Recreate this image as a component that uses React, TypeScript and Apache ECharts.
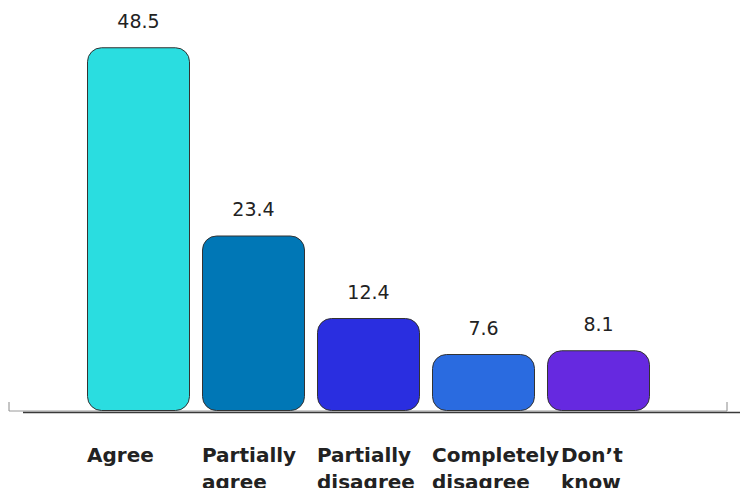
import React, { useEffect, useRef } from "react";
import * as echarts from "echarts";

const categories = ["Agree", "Partially agree", "Partially disagree", "Completely disagree", "Don’t know"];
const values = [48.5, 23.4, 12.4, 7.6, 8.1];
const barColors = ["#2ADDE0", "#0077B6", "#2A2EE0", "#2A6BE0", "#6629E0"];
const labelLines: Record<string, string> = {
  "Agree": "Agree",
  "Partially agree": "Partially\nagree",
  "Partially disagree": "Partially\ndisagree",
  "Completely disagree": "Completely\ndisagree",
  "Don’t know": "Don’t\nknow",
};
// horizontal nudge of each category label from its bar's left edge
const labelShift = [0, 0, 0, 0, 14];

const FONT = "'DejaVu Sans', sans-serif";

export default function App() {
  const ref = useRef<HTMLDivElement>(null);
  useEffect(() => {
    if (!ref.current) return;
    const chart = echarts.init(ref.current, null, { renderer: "svg" });
    chart.setOption({
      animation: false,
      grid: { left: 81, right: 84, top: 36, bottom: 77 },
      xAxis: {
        type: "category",
        data: categories,
        axisLine: { show: false },
        axisTick: { show: false },
        axisLabel: { show: false },
      },
      yAxis: { type: "value", min: 0, max: 50, show: false, splitLine: { show: false } },
      graphic: [
        { type: "line", shape: { x1: 9, y1: 411, x2: 727, y2: 411 }, style: { stroke: "#9a9a9a", lineWidth: 1 }, z: 0 },
        { type: "line", shape: { x1: 23, y1: 412.5, x2: 740, y2: 412.5 }, style: { stroke: "#3a3a3a", lineWidth: 1.5 }, z: 0 },
        { type: "line", shape: { x1: 9, y1: 402, x2: 9, y2: 411 }, style: { stroke: "#8a8a8a", lineWidth: 1 } },
        { type: "line", shape: { x1: 727, y1: 402, x2: 727, y2: 411 }, style: { stroke: "#8a8a8a", lineWidth: 1 } },
      ],
      series: [
        {
          type: "bar",
          barWidth: 103,
          data: values.map((v, i) => ({ value: v, itemStyle: { color: barColors[i] } })),
          itemStyle: { borderColor: "#333", borderWidth: 1, borderRadius: 14 },
          label: {
            show: true,
            position: "top",
            distance: 17,
            color: "#222",
            fontFamily: FONT,
            fontSize: 19,
          },
          z: 3,
        },
        {
          type: "bar",
          barWidth: 103,
          barGap: "-100%",
          data: categories.map((_, i) => ({ value: 0, label: { position: [labelShift[i], 30] } })),
          itemStyle: { color: "transparent", borderWidth: 0 },
          label: {
            show: true,
            position: [0, 30],
            align: "left",
            verticalAlign: "top",
            formatter: (p: any) => labelLines[p.name],
            color: "#222",
            fontFamily: FONT,
            fontWeight: "bold",
            fontSize: 20,
            lineHeight: 27,
          },
          labelLayout: { hideOverlap: false },
          z: 4,
        },
      ],
    });
    return () => chart.dispose();
  }, []);
  return <div ref={ref} style={{ position: "absolute", left: 0, top: 0, width: 740, height: 488 }} />;
}
